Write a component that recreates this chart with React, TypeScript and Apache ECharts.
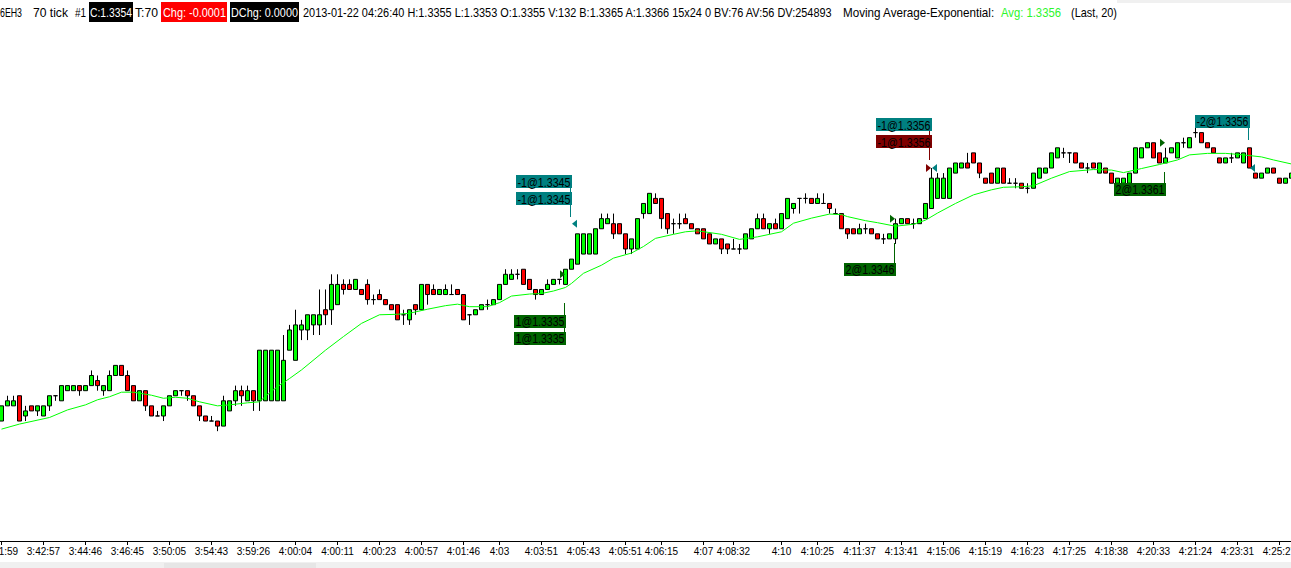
import React, { useEffect, useRef } from "react";
import * as echarts from "echarts";

// ---------------- data ----------------
const opens = [
  1.3306,1.3309,1.3309,1.3311,1.3307,1.3309,1.3308,1.3307,1.3309,1.3311,
  1.3310,1.3312,1.3312,1.3313,1.3312,1.3313,1.3314,1.3312,1.3312,1.3315,
  1.3317,1.3315,1.3313,1.3310,1.3312,1.3309,1.3307,1.3307,1.3309,1.3311,
  1.3312,1.3312,1.3311,1.3309,1.3307,1.3306,1.3306,1.3305,1.3308,1.3310,
  1.3312,1.3310,1.3312,1.3310,1.3310,1.3310,1.3310,1.3310,1.3320,1.3318,
  1.3324,1.3324,1.3325,1.3325,1.3328,1.3328,1.3329,1.3333,1.3333,1.3332,
  1.3332,1.3333,1.3330,1.3331,1.3330,1.3329,1.3329,1.3327,1.3326,1.3329,
  1.3328,1.3333,1.3332,1.3331,1.3331,1.3331,1.3332,1.3331,1.3327,1.3327,
  1.3328,1.3329,1.3329,1.3330,1.3333,1.3334,1.3335,1.3336,1.3334,1.3332,
  1.3331,1.3332,1.3333,1.3334,1.3333,1.3336,1.3337,1.3339,1.3339,1.3339,
  1.3344,1.3345,1.3345,1.3345,1.3343,1.3340,1.3340,1.3347,1.3347,1.3350,
  1.3350,1.3347,1.3345,1.3345,1.3346,1.3345,1.3344,1.3344,1.3343,1.3341,
  1.3342,1.3341,1.3340,1.3340,1.3340,1.3342,1.3344,1.3346,1.3344,1.3345,
  1.3344,1.3346,1.3348,1.3350,1.3350,1.3350,1.3349,1.3349,1.3349,1.3347,
  1.3347,1.3344,1.3344,1.3343,1.3344,1.3344,1.3343,1.3342,1.3342,1.3342,
  1.3345,1.3346,1.3345,1.3345,1.3346,1.3348,1.3350,1.3350,1.3350,1.3355,
  1.3356,1.3357,1.3359,1.3357,1.3354,1.3355,1.3353,1.3356,1.3353,1.3353,
  1.3353,1.3352,1.3352,1.3354,1.3355,1.3356,1.3358,1.3359,1.3359,1.3359,
  1.3357,1.3356,1.3357,1.3355,1.3356,1.3355,1.3353,1.3353,1.3353,1.3355,
  1.3358,1.3360,1.3361,1.3359,1.3357,1.3359,1.3358,1.3361,1.3360,1.3363,
  1.3363,1.3361,1.3360,1.3358,1.3357,1.3358,1.3358,1.3357,1.3360,1.3355,
  1.3354,1.3355,1.3356,1.3354,1.3353,1.3354,
];
const closes = [
  1.3309,1.3310,1.3310,1.3306,1.3308,1.3308,1.3309,1.3309,1.3311,1.3311,
  1.3313,1.3313,1.3313,1.3312,1.3313,1.3315,1.3313,1.3313,1.3315,1.3317,
  1.3315,1.3312,1.3310,1.3312,1.3309,1.3307,1.3307,1.3309,1.3311,1.3312,
  1.3312,1.3311,1.3309,1.3307,1.3306,1.3306,1.3305,1.3310,1.3310,1.3312,
  1.3311,1.3312,1.3310,1.3320,1.3320,1.3320,1.3320,1.3318,1.3324,1.3325,
  1.3325,1.3327,1.3327,1.3327,1.3327,1.3333,1.3333,1.3332,1.3332,1.3334,
  1.3331,1.3330,1.3330,1.3330,1.3329,1.3328,1.3326,1.3327,1.3328,1.3328,
  1.3333,1.3331,1.3331,1.3332,1.3332,1.3331,1.3331,1.3326,1.3327,1.3328,
  1.3329,1.3329,1.3330,1.3333,1.3335,1.3335,1.3335,1.3333,1.3332,1.3331,
  1.3332,1.3333,1.3334,1.3334,1.3336,1.3338,1.3343,1.3343,1.3343,1.3344,
  1.3346,1.3346,1.3343,1.3343,1.3340,1.3342,1.3346,1.3349,1.3351,1.3349,
  1.3346,1.3344,1.3345,1.3345,1.3345,1.3344,1.3343,1.3342,1.3341,1.3342,
  1.3340,1.3340,1.3340,1.3340,1.3343,1.3344,1.3346,1.3344,1.3345,1.3344,
  1.3347,1.3350,1.3349,1.3350,1.3350,1.3349,1.3350,1.3349,1.3348,1.3347,
  1.3344,1.3343,1.3343,1.3344,1.3344,1.3343,1.3342,1.3342,1.3343,1.3345,
  1.3346,1.3345,1.3345,1.3346,1.3349,1.3354,1.3354,1.3354,1.3356,1.3357,
  1.3357,1.3356,1.3357,1.3355,1.3353,1.3353,1.3356,1.3353,1.3353,1.3353,
  1.3352,1.3352,1.3355,1.3356,1.3356,1.3359,1.3360,1.3359,1.3359,1.3357,
  1.3356,1.3356,1.3356,1.3357,1.3355,1.3353,1.3354,1.3354,1.3355,1.3360,
  1.3360,1.3361,1.3358,1.3357,1.3358,1.3360,1.3361,1.3361,1.3362,1.3363,
  1.3361,1.3360,1.3359,1.3357,1.3358,1.3358,1.3359,1.3359,1.3356,1.3354,
  1.3355,1.3356,1.3355,1.3353,1.3354,1.3355,
];
const highs = [
  1.3309,1.3311,1.3311,1.3311,1.3309,1.3309,1.3309,1.3309,1.3311,1.3311,
  1.3313,1.3313,1.3313,1.3313,1.3313,1.3316,1.3315,1.3313,1.3316,1.3317,
  1.3317,1.3316,1.3313,1.3312,1.3312,1.3309,1.3308,1.3309,1.3311,1.3312,
  1.3312,1.3312,1.3311,1.3309,1.3307,1.3307,1.3306,1.3311,1.3310,1.3313,
  1.3313,1.3313,1.3312,1.3320,1.3320,1.3320,1.3320,1.3323,1.3325,1.3328,
  1.3326,1.3327,1.3327,1.3332,1.3332,1.3335,1.3335,1.3334,1.3334,1.3334,
  1.3332,1.3334,1.3331,1.3332,1.3330,1.3329,1.3329,1.3328,1.3328,1.3329,
  1.3333,1.3333,1.3333,1.3332,1.3333,1.3333,1.3332,1.3331,1.3327,1.3328,
  1.3329,1.3330,1.3330,1.3333,1.3336,1.3336,1.3336,1.3336,1.3334,1.3332,
  1.3332,1.3334,1.3334,1.3334,1.3336,1.3338,1.3343,1.3343,1.3343,1.3344,
  1.3347,1.3347,1.3347,1.3345,1.3343,1.3342,1.3346,1.3349,1.3351,1.3351,
  1.3350,1.3347,1.3346,1.3347,1.3347,1.3345,1.3344,1.3344,1.3343,1.3342,
  1.3342,1.3341,1.3342,1.3341,1.3343,1.3344,1.3347,1.3347,1.3345,1.3346,
  1.3347,1.3350,1.3349,1.3350,1.3351,1.3350,1.3351,1.3351,1.3349,1.3348,
  1.3347,1.3344,1.3344,1.3345,1.3345,1.3344,1.3343,1.3343,1.3343,1.3346,
  1.3346,1.3346,1.3346,1.3346,1.3349,1.3356,1.3355,1.3355,1.3356,1.3357,
  1.3357,1.3359,1.3359,1.3357,1.3354,1.3355,1.3356,1.3356,1.3354,1.3354,
  1.3353,1.3353,1.3355,1.3356,1.3356,1.3359,1.3360,1.3360,1.3359,1.3359,
  1.3357,1.3357,1.3357,1.3357,1.3356,1.3355,1.3354,1.3354,1.3355,1.3360,
  1.3360,1.3361,1.3361,1.3359,1.3360,1.3360,1.3361,1.3362,1.3362,1.3364,
  1.3363,1.3361,1.3360,1.3358,1.3358,1.3359,1.3359,1.3359,1.3360,1.3355,
  1.3355,1.3356,1.3356,1.3354,1.3354,1.3355,
];
const lows = [
  1.3306,1.3309,1.3309,1.3306,1.3306,1.3308,1.3307,1.3307,1.3308,1.3310,
  1.3310,1.3312,1.3312,1.3311,1.3312,1.3313,1.3312,1.3311,1.3312,1.3315,
  1.3315,1.3312,1.3310,1.3310,1.3308,1.3307,1.3307,1.3306,1.3309,1.3311,
  1.3311,1.3310,1.3309,1.3306,1.3306,1.3306,1.3304,1.3305,1.3308,1.3309,
  1.3309,1.3310,1.3308,1.3308,1.3310,1.3310,1.3310,1.3310,1.3320,1.3318,
  1.3322,1.3322,1.3323,1.3323,1.3325,1.3325,1.3329,1.3331,1.3332,1.3332,
  1.3331,1.3329,1.3329,1.3330,1.3329,1.3328,1.3326,1.3325,1.3325,1.3327,
  1.3328,1.3329,1.3331,1.3331,1.3331,1.3331,1.3331,1.3326,1.3325,1.3327,
  1.3328,1.3328,1.3329,1.3330,1.3333,1.3334,1.3334,1.3333,1.3332,1.3330,
  1.3331,1.3332,1.3333,1.3333,1.3333,1.3336,1.3337,1.3339,1.3339,1.3339,
  1.3344,1.3345,1.3342,1.3343,1.3339,1.3339,1.3340,1.3346,1.3347,1.3349,
  1.3344,1.3343,1.3343,1.3344,1.3345,1.3344,1.3343,1.3342,1.3341,1.3341,
  1.3339,1.3339,1.3340,1.3339,1.3340,1.3342,1.3344,1.3344,1.3343,1.3344,
  1.3344,1.3346,1.3347,1.3347,1.3349,1.3349,1.3349,1.3349,1.3347,1.3347,
  1.3344,1.3342,1.3343,1.3343,1.3343,1.3343,1.3342,1.3341,1.3342,1.3341,
  1.3345,1.3345,1.3344,1.3345,1.3346,1.3348,1.3350,1.3350,1.3350,1.3355,
  1.3356,1.3356,1.3357,1.3354,1.3353,1.3353,1.3353,1.3353,1.3353,1.3352,
  1.3352,1.3351,1.3352,1.3354,1.3355,1.3356,1.3358,1.3358,1.3357,1.3357,
  1.3356,1.3355,1.3356,1.3355,1.3355,1.3353,1.3353,1.3353,1.3353,1.3355,
  1.3358,1.3360,1.3358,1.3357,1.3357,1.3359,1.3358,1.3360,1.3360,1.3362,
  1.3361,1.3360,1.3359,1.3357,1.3357,1.3357,1.3358,1.3357,1.3356,1.3354,
  1.3354,1.3355,1.3355,1.3353,1.3353,1.3354,
];

// EMA(20) values at these bars
const emaBars = [0,3,8,11,14,16,18,20,22,25,27,29,31,33,36,38,41,43,44,46,48,50,54,57,60,63,66,68,71,74,76,78,81,83,85,88,90,92,94,95,97,100,102,105,107,109,112,114,116,120,123,126,130,132,135,138,140,141,144,146,149,152,154,156,159,162,165,167,170,172,175,178,182,185,187,190,193,196,198,201,204,207,210,212,215];
const emaValues = [1.33044,1.33054,1.33067,1.33082,1.33092,1.33102,1.33108,1.33117,1.33117,1.33111,1.33105,1.33107,1.33105,1.33098,1.33090,1.33092,1.33096,1.33098,1.33109,1.33128,1.33144,1.33161,1.33200,1.33227,1.33253,1.33270,1.33271,1.33273,1.33281,1.33288,1.33291,1.33286,1.33286,1.33294,1.33307,1.33311,1.33312,1.33317,1.33324,1.33332,1.33352,1.33368,1.33382,1.33392,1.33405,1.33421,1.33429,1.33434,1.33436,1.33429,1.33419,1.33424,1.33434,1.33451,1.33461,1.33469,1.33468,1.33464,1.33456,1.33452,1.33445,1.33449,1.33457,1.33471,1.33490,1.33507,1.33517,1.33522,1.33523,1.33525,1.33540,1.33553,1.33557,1.33556,1.33551,1.33559,1.33567,1.33576,1.33586,1.33589,1.33589,1.33586,1.33582,1.33576,1.33568];

const tickBars = [0,7,14,21,28,35,42,49,56,63,70,77,83,90,97,104,110,117,122,130,136,143,150,157,164,171,178,185,192,199,206,213];
const tickLabels = ["3:41:59","3:42:57","3:44:46","3:46:45","3:50:05","3:54:43","3:59:26","4:00:04","4:00:11","4:00:23","4:00:57","4:01:46","4:03","4:03:51","4:05:43","4:05:51","4:06:15","4:07","4:08:32","4:10","4:10:25","4:11:37","4:13:41","4:15:06","4:15:19","4:16:23","4:17:25","4:18:38","4:20:33","4:21:24","4:23:31","4:25:27"];

const tradeBars = [94, 95, 149, 155, 194, 208];
const tradePrices = [1.3335, 1.3345, 1.3346, 1.3356, 1.3361, 1.3356];
const tradeTexts = [["1@1.3335","1@1.3335"],["-1@1.3345","-1@1.3345"],["2@1.3346"],["-1@1.3356","-1@1.3356"],["2@1.3361"],["-2@1.3356"]];

const headerTexts = ["6EH3","70 tick","#1","C:1.3354","T:70","Chg: -0.0001","DChg: 0.0000",
  "2013-01-22 04:26:40 H:1.3355 L:1.3353 O:1.3355 V:132 B:1.3365 A:1.3366 15x24 0 BV:76 AV:56 DV:254893",
  "Moving Average-Exponential:","Avg: 1.3356","(Last, 20)"];

// ---------------- layout / style ----------------
const W = 1291, H = 568;
const GRID_TOP = 25, GRID_BOTTOM_Y = 541;
const Y_MIN = 1.3282292, Y_MAX = 1.3384269;
const FONT = "Liberation Sans";
const UP = "#00ff00", DOWN = "#ff0000";
const BUY_C = "#006400", TEAL = "#008080", DRED = "#800000";
const HEADER_FS = 13;

const headerLayout = [
  { x0: 0, x1: 22 }, { x0: 33, x1: 68 }, { x0: 75, x1: 86 },
  { x0: 90, x1: 132, bx0: 89, bx1: 133, bg: "#000000", fill: "#ffffff" },
  { x0: 135, x1: 158 },
  { x0: 163, x1: 226, bx0: 161, bx1: 227, bg: "#ff0000", fill: "#ffffff" },
  { x0: 231, x1: 298, bx0: 230, bx1: 299, bg: "#000000", fill: "#ffffff" },
  { x0: 303, x1: 833 }, { x0: 843, x1: 995 },
  { x0: 1001, x1: 1061, fill: "#2cf52c" }, { x0: 1071, x1: 1117 },
];
const tradeBoxColors = [[BUY_C, BUY_C], [TEAL, TEAL], [BUY_C], [TEAL, DRED], [BUY_C], [TEAL]];
const tradeMarkers = [[["r", BUY_C]], [["l", TEAL]], [["r", BUY_C]], [["r", DRED], ["l", TEAL]], [["r", BUY_C]], [["l", TEAL]]];
const tradeBoxTop = [40.7, -48.7, 44.4, -50, 40.3, -53];
const tradeLineEnd = [28.7, -6.7, 24.4, -8, 29.3, -28];
const tradeBoxW = [52, 56, 52, 56, 52, 55];
const BOX_H = 13, BOX_PITCH = 17;

let measureCtx: CanvasRenderingContext2D | null = null;
function measure(t: string, size: number) {
  if (!measureCtx) measureCtx = document.createElement("canvas").getContext("2d");
  measureCtx!.font = `${size}px "${FONT}"`;
  return measureCtx!.measureText(t).width || t.length * size * 0.55;
}

export default function App() {
  const ref = useRef<HTMLDivElement>(null);
  useEffect(() => {
    const chart = echarts.init(ref.current!, null, { renderer: "svg" });
    const N = opens.length;
    const cats = opens.map((_, i) => String(i));
    const labelMap = new Map<number, string>();
    tickBars.forEach((b, k) => labelMap.set(b, tickLabels[k]));
    const showTick = (idx: number) => labelMap.has(idx);
    const emaData: (number | null)[] = new Array(N).fill(null);
    emaBars.forEach((b, k) => (emaData[b] = emaValues[k]));
    const candleData = opens.map((o, i) => [o, closes[i], lows[i], highs[i]]);

    chart.setOption({
      animation: false,
      backgroundColor: "#ffffff",
      grid: {
        left: 1.5, top: GRID_TOP, width: 1290, height: GRID_BOTTOM_Y - GRID_TOP,
        containLabel: false, outerBoundsMode: "none",
      },
      xAxis: {
        type: "category",
        data: cats,
        boundaryGap: false,
        axisLine: { show: true, lineStyle: { color: "#000", width: 1 } },
        axisTick: { show: true, length: 4, interval: showTick, lineStyle: { color: "#000" } },
        axisLabel: {
          show: true, interval: showTick, margin: 5, hideOverlap: false,
          formatter: (_v: string, idx: number) => labelMap.get(idx) || "",
          color: "#000", fontSize: 10, fontFamily: FONT,
        },
        splitLine: { show: false },
      },
      yAxis: { type: "value", min: Y_MIN, max: Y_MAX, show: false, splitLine: { show: false } },
      series: [
        {
          type: "candlestick",
          data: candleData,
          barWidth: 4,
          clip: false,
          itemStyle: { color: UP, color0: DOWN, borderColor: "#000", borderColor0: "#000", borderWidth: 1 },
          z: 2,
        },
        {
          type: "line",
          data: emaData,
          connectNulls: true,
          symbol: "none",
          showSymbol: false,
          clip: false,
          lineStyle: { color: "#00ff00", width: 1 },
          z: 3,
          silent: true,
        },
      ],
    });

    const els: any[] = [];
    els.push({ type: "rect", shape: { x: 0, y: 562, width: W, height: 6 }, style: { fill: "#f0f0f0" }, silent: true });
    els.push({ type: "rect", shape: { x: 164, y: 563, width: 152, height: 5 }, style: { fill: "#e6e6e6" }, silent: true });
    els.push({ type: "rect", shape: { x: 1117, y: 0, width: W - 1117, height: 3 }, style: { fill: "#f0f0f0" }, silent: true });
    els.push({ type: "line", shape: { x1: 0, y1: GRID_BOTTOM_Y + 0.5, x2: 3, y2: GRID_BOTTOM_Y + 0.5 }, style: { stroke: "#000", lineWidth: 1 }, silent: true });
    headerTexts.forEach((t, k) => {
      const L: any = headerLayout[k];
      if (L.bg) els.push({ type: "rect", shape: { x: L.bx0, y: 2, width: L.bx1 - L.bx0, height: 20 }, style: { fill: L.bg }, silent: true });
      const w = measure(t, HEADER_FS);
      els.push({
        type: "text", x: L.x0, y: 12.5, scaleX: (L.x1 - L.x0) / w, silent: true,
        style: { text: t, fill: L.fill || "#000", fontSize: HEADER_FS, fontFamily: FONT, verticalAlign: "middle", align: "left" },
      });
    });

    tradeBars.forEach((b, k) => {
      const p = chart.convertToPixel({ xAxisIndex: 0, yAxisIndex: 0 }, [b, tradePrices[k]]) as number[];
      const cx = p[0], py = p[1];
      tradeMarkers[k].forEach(([dir, col]) => {
        const pts = dir === "r"
          ? [[cx - 0.5, py], [cx - 5.5, py - 4], [cx - 5.5, py + 4]]
          : [[cx + 0.5, py], [cx + 5.5, py - 4], [cx + 5.5, py + 4]];
        els.push({ type: "polygon", shape: { points: pts }, style: { fill: col }, silent: true, z: 10 });
      });
      const texts = tradeTexts[k];
      const bw = tradeBoxW[k];
      const left = Math.round(cx + 0.5 - bw);
      const lx = Math.round(cx) - 1.5;
      const tops = texts.map((_, j) => Math.round(py + tradeBoxTop[k] + j * BOX_PITCH));
      const below = tradeBoxTop[k] > 0;
      const lastCol = tradeBoxColors[k][texts.length - 1];
      if (below) {
        els.push({ type: "line", shape: { x1: lx, y1: Math.round(py + tradeLineEnd[k]), x2: lx, y2: tops[tops.length - 1] }, style: { stroke: tradeBoxColors[k][0], lineWidth: 1 }, silent: true, z: 9 });
      } else {
        els.push({ type: "line", shape: { x1: lx, y1: tops[0] + BOX_H, x2: lx, y2: Math.round(py + tradeLineEnd[k]) }, style: { stroke: lastCol, lineWidth: 1 }, silent: true, z: 9 });
      }
      texts.forEach((t, j) => {
        els.push({ type: "rect", shape: { x: left, y: tops[j], width: bw, height: BOX_H }, style: { fill: tradeBoxColors[k][j] }, silent: true, z: 10 });
        const tw = measure(t, 12.5);
        els.push({
          type: "text", x: left + 1.5, y: tops[j] + BOX_H / 2 + 0.5, scaleX: (bw - 3) / tw, silent: true, z: 11,
          style: { text: t, fill: "#000", fontSize: 12.5, fontFamily: FONT, verticalAlign: "middle", align: "left" },
        });
      });
    });

    chart.setOption({ graphic: els });
    return () => chart.dispose();
  }, []);
  return <div ref={ref} style={{ position: "fixed", left: 0, top: 0, width: W, height: H, background: "#fff" }} />;
}
